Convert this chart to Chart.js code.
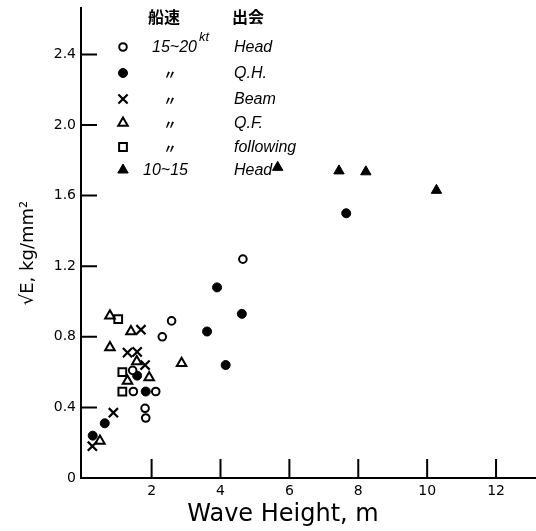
<!DOCTYPE html>
<html>
<head>
<meta charset="utf-8">
<script src="https://cdn.jsdelivr.net/npm/chart.js@4.4.1/dist/chart.umd.min.js"></script>
<style>
  html, body { margin: 0; padding: 0; background: #fff; }
  #wrap { width: 536px; height: 531px; position: relative; }
</style>
</head>
<body>
<div id="wrap"><canvas id="c" width="536" height="531"></canvas></div>
<script>
// Wave height (m) vs sqrt(E) (kg/mm^2), grouped by ship speed and encounter direction
const headFast      = [[2.58,0.89],[2.31,0.80],[1.45,0.61],[1.47,0.49],[2.12,0.49],[1.81,0.395],[1.83,0.34],[4.65,1.24]];
const quarterHead   = [[3.61,0.83],[3.90,1.08],[4.62,0.93],[4.15,0.64],[7.65,1.50],[1.83,0.49],[0.64,0.31],[0.29,0.24],[1.58,0.58]];
const beam          = [[1.69,0.84],[1.30,0.71],[1.58,0.715],[1.81,0.64],[0.89,0.37],[0.28,0.18]];
const quarterFollow = [[0.79,0.92],[1.40,0.83],[0.79,0.74],[1.57,0.66],[1.93,0.57],[1.30,0.55],[2.87,0.65],[0.50,0.21]];
const following     = [[1.03,0.90],[1.15,0.60],[1.15,0.49]];
const headSlow      = [[5.66,1.76],[7.44,1.74],[8.22,1.735],[10.27,1.63]];

const xTickValues = [2, 4, 6, 8, 10, 12];
const yTickValues = [0, 0.4, 0.8, 1.2, 1.6, 2.0, 2.4];
const yTickLabels = ['0', '0.4', '0.8', '1.2', '1.6', '2.0', '2.4'];

const speedHeader = '船速';
const dirHeader = '出会';
const speedLabels = ['15~20', '〃', '〃', '〃', '〃', '10~15'];
const dirLabels = ['Head', 'Q.H.', 'Beam', 'Q.F.', 'following', 'Head'];

const toPts = arr => arr.map(([x, y]) => ({ x, y }));

const styles = [
  { pointStyle: 'circle',    radius: 3.8, borderWidth: 2,   fill: '#fff' },
  { pointStyle: 'circle',    radius: 4.5, borderWidth: 1,   fill: '#000' },
  { pointStyle: 'crossRot',  radius: 6.5, borderWidth: 2.2, fill: '#000' },
  { pointStyle: 'triangle',  radius: 5.5, borderWidth: 2,   fill: '#fff' },
  { pointStyle: 'rect',      radius: 5.5, borderWidth: 2,   fill: '#fff' },
  { pointStyle: 'triangle',  radius: 6,   borderWidth: 1,   fill: '#000' }
];
const seriesData = [headFast, quarterHead, beam, quarterFollow, following, headSlow];

const datasets = seriesData.map((d, i) => ({
  label: speedLabels[i] + ' ' + dirLabels[i],
  data: toPts(d),
  pointStyle: styles[i].pointStyle,
  pointRadius: styles[i].radius,
  pointBorderWidth: styles[i].borderWidth,
  pointBackgroundColor: styles[i].fill,
  pointBorderColor: '#000',
  showLine: false
}));

// Short tick marks drawn inward from both axes, legend table and axis titles
const decorations = {
  id: 'decorations',
  afterDatasetsDraw(chart) {
    const { ctx, chartArea, scales } = chart;
    ctx.save();
    ctx.strokeStyle = '#000';
    ctx.lineWidth = 2;
    ctx.beginPath();
    yTickValues.forEach(v => {
      if (v === 0) return;
      const py = scales.y.getPixelForValue(v);
      ctx.moveTo(chartArea.left, py);
      ctx.lineTo(chartArea.left + 16, py);
    });
    xTickValues.forEach(v => {
      const px = scales.x.getPixelForValue(v);
      ctx.moveTo(px, chartArea.bottom);
      ctx.lineTo(px, chartArea.bottom - 19);
    });
    ctx.stroke();

    // legend table
    ctx.fillStyle = '#000';
    ctx.textBaseline = 'middle';
    ctx.font = 'bold 16px "Noto Sans CJK JP"';
    ctx.textAlign = 'left';
    ctx.fillText(speedHeader, 148, 17);
    ctx.fillText(dirHeader, 232, 17);

    const rowY = [47, 73, 99, 123, 147, 170];
    rowY.forEach((y, i) => {
      const s = styles[i];
      ctx.fillStyle = s.fill;
      ctx.strokeStyle = '#000';
      ctx.lineWidth = s.borderWidth;
      Chart.helpers.drawPoint(ctx, { pointStyle: s.pointStyle, radius: s.radius, borderWidth: s.borderWidth, rotation: 0 }, 123, y);
      ctx.fillStyle = '#000';
      const sp = speedLabels[i];
      if (sp === '〃') {
        ctx.font = 'bold 13px "Noto Sans CJK JP"';
        ctx.textAlign = 'center';
        ctx.fillText(sp, 170, y + 1);
      } else {
        ctx.font = 'italic 16px "Liberation Sans"';
        ctx.textAlign = 'left';
        const x0 = i === 0 ? 152 : 143;
        ctx.fillText(sp, x0, y + 1);
        if (i === 0) {
          const w = ctx.measureText(sp).width;
          ctx.font = 'italic 13px "Liberation Sans"';
          ctx.fillText('kt', x0 + w + 2, y - 10);
        }
      }
      ctx.font = 'italic 16px "Liberation Sans"';
      ctx.textAlign = 'left';
      ctx.fillText(dirLabels[i], 234, y + 1);
    });

    // axis titles
    ctx.font = '24px "DejaVu Sans"';
    ctx.textAlign = 'center';
    ctx.fillText('Wave Height, m', 283, 515);
    ctx.save();
    ctx.translate(28, 253);
    ctx.rotate(-Math.PI / 2);
    ctx.font = '18px "DejaVu Sans"';
    ctx.fillText('√E, kg/mm²', 0, 0);
    ctx.restore();
    ctx.restore();
  }
};

new Chart(document.getElementById('c'), {
  type: 'scatter',
  data: { datasets },
  options: {
    responsive: false,
    animation: false,
    layout: { autoPadding: false, padding: { top: 8, right: 0, left: 0, bottom: 0 } },
    plugins: { legend: { display: false }, tooltip: { enabled: false } },
    scales: {
      x: {
        type: 'linear',
        min: -0.05,
        max: 13.16,
        grid: { display: false, drawTicks: false },
        border: { display: true, color: '#000', width: 2 },
        afterBuildTicks: s => { s.ticks = xTickValues.map(v => ({ value: v })); },
        afterFit: s => { s.height = 53; s.paddingLeft = 0; s.paddingRight = 0; },
        ticks: {
          color: '#000',
          padding: 5,
          maxRotation: 0,
          autoSkip: false,
          font: { family: 'DejaVu Sans', size: 14 },
          callback: v => String(v)
        }
      },
      y: {
        type: 'linear',
        min: 0,
        max: 2.663,
        grid: { display: false, drawTicks: false },
        border: { display: true, color: '#000', width: 2 },
        afterBuildTicks: s => { s.ticks = yTickValues.map(v => ({ value: v })); },
        afterFit: s => { s.width = 81; s.paddingTop = 0; s.paddingBottom = 0; },
        ticks: {
          color: '#000',
          padding: 5,
          autoSkip: false,
          font: { family: 'DejaVu Sans', size: 14 },
          callback: (v, i) => yTickLabels[i]
        }
      }
    }
  },
  plugins: [decorations]
});
</script>
</body>
</html>
